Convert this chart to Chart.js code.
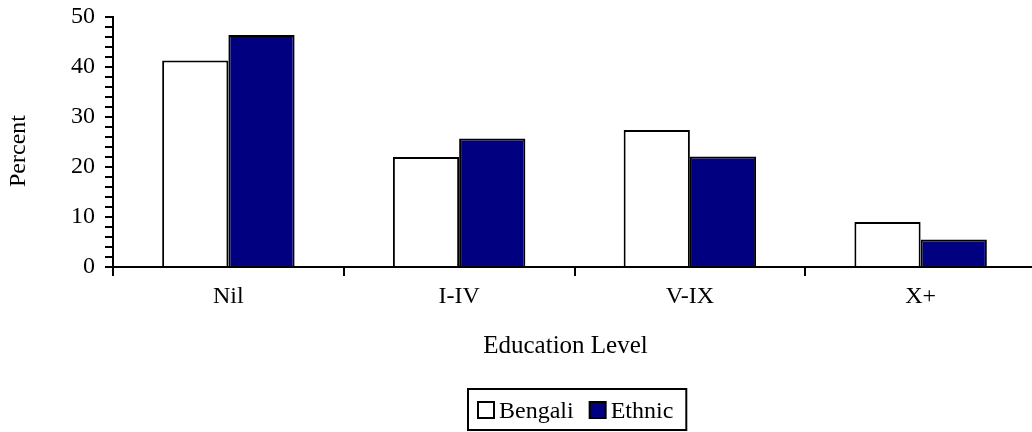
<!DOCTYPE html>
<html>
<head>
<meta charset="utf-8">
<script src="https://cdn.jsdelivr.net/npm/chart.js@4"></script>
<style>
  html, body { margin: 0; padding: 0; background: #fff; overflow: hidden; }
  #wrap { width: 1032px; height: 432px; overflow: hidden; }
</style>
</head>
<body>
<div id="wrap"><canvas id="myBarChart" width="1036" height="432"></canvas></div>
<script>
// chart data
const education_levels = ['Nil', 'I-IV', 'V-IX', 'X+'];
const bengali_percent = [41.3, 22.0, 27.4, 9.0];
const ethnic_percent = [46.4, 25.7, 22.1, 5.5];
const y_labels = [0, 10, 20, 30, 40, 50];
const x_title = 'Education Level';
const y_title = 'Percent';

const serif = "'Liberation Serif', 'Times New Roman', serif";

// axis titles and the boxed legend, placed like the original
const titles_and_legend = {
    id: 'titles_and_legend',
    afterDraw(chart) {
        const ctx = chart.ctx;
        const area = chart.chartArea;
        ctx.save();
        ctx.fillStyle = '#000';

        // y title, rotated
        ctx.font = '24px ' + serif;
        ctx.textAlign = 'center';
        ctx.textBaseline = 'middle';
        ctx.save();
        ctx.translate(19, (area.top + area.bottom) / 2 + 9);
        ctx.rotate(-Math.PI / 2);
        ctx.fillText(y_title, 0, 0);
        ctx.restore();

        // x title
        ctx.font = '25px ' + serif;
        ctx.textBaseline = 'alphabetic';
        ctx.fillText(x_title, (area.left + area.right) / 2 - 9, 353);

        // legend
        ctx.font = '24px ' + serif;
        ctx.textAlign = 'left';
        const sq = 16, gap = 5, item_gap = 16, pad_l = 10, pad_r = 13;
        let widths = chart.data.datasets.map(ds => sq + gap + ctx.measureText(ds.label).width);
        let total = widths.reduce((a, b) => a + b, 0) + item_gap * (widths.length - 1) + pad_l + pad_r;
        let center = (area.left + area.right) / 2 + 3;
        let left = Math.round(center - total / 2);
        let top = 389, h = 41;
        ctx.lineWidth = 2;
        ctx.strokeStyle = '#000';
        ctx.strokeRect(left, top, total, h);
        let x = left + pad_l;
        chart.data.datasets.forEach((ds, i) => {
            ctx.fillStyle = ds.backgroundColor;
            ctx.fillRect(x, 402, sq, sq);
            ctx.strokeRect(x, 402, sq, sq);
            ctx.fillStyle = '#000';
            ctx.fillText(ds.label, x + sq + gap, 418);
            x += widths[i] + item_gap;
        });
        ctx.restore();
    }
};

const ctx = document.getElementById('myBarChart').getContext('2d');

const data = {
    labels: education_levels,
    datasets: [{
        label: 'Bengali',
        data: bengali_percent,
        backgroundColor: '#ffffff',
        borderColor: '#000000',
        borderWidth: 2
    }, {
        label: 'Ethnic',
        data: ethnic_percent,
        backgroundColor: '#000080',
        borderColor: '#000000',
        borderWidth: 2
    }]
};

const config = {
    type: 'bar',
    data: data,
    options: {
        responsive: false,
        animation: false,
        layout: { padding: { top: 17, bottom: 60, left: 0, right: 0 } },
        datasets: { bar: { categoryPercentage: 0.574, barPercentage: 1.0 } },
        plugins: {
            legend: { display: false },
            tooltip: { enabled: false }
        },
        scales: {
            x: {
                grid: {
                    offset: true,
                    drawOnChartArea: false,
                    color: '#000',
                    lineWidth: 2,
                    tickLength: 9
                },
                border: { color: '#000', width: 2 },
                ticks: {
                    color: '#000',
                    font: { family: serif, size: 24 },
                    padding: 6
                },
                afterFit: (scale) => { scale.height = 105; }
            },
            y: {
                min: 0,
                max: 50,
                grid: {
                    drawOnChartArea: false,
                    color: '#000',
                    lineWidth: 2,
                    tickLength: 8
                },
                border: { color: '#000', width: 2 },
                ticks: {
                    stepSize: 2,
                    autoSkip: false,
                    color: '#000',
                    font: { family: serif, size: 24 },
                    padding: 10,
                    callback: (val) => y_labels.includes(val) ? val : ''
                },
                afterFit: (scale) => {
                    scale.width = 113;
                    // top label may hang over the padding, like the original
                    scale.paddingTop = 0;
                    scale.paddingBottom = 0;
                }
            }
        }
    },
    plugins: [titles_and_legend]
};

const myChart = new Chart(ctx, config);
</script>
</body>
</html>
